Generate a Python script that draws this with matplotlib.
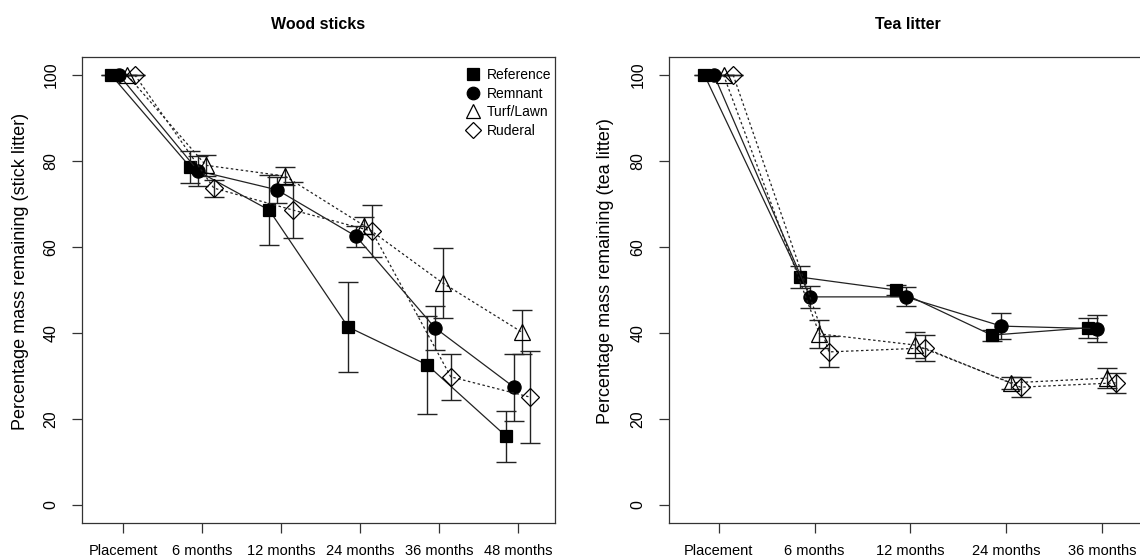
import matplotlib
matplotlib.use("Agg")
import matplotlib.pyplot as plt
import numpy as np

plt.rcParams['font.family'] = ['Liberation Sans', 'DejaVu Sans']

groups = ["Reference", "Remnant", "Turf/Lawn", "Ruderal"]

# Wood sticks
wood_labels = ["Placement", "6 months", "12 months", "24 months", "36 months", "48 months"]
wood_mean = {
    "Reference": [100, 78.6, 68.6, 41.4, 32.6, 16.0],
    "Remnant":   [100, 77.7, 73.3, 62.5, 41.2, 27.4],
    "Turf/Lawn": [100, 79.0, 76.5, 65.0, 51.6, 40.2],
    "Ruderal":   [100, 73.7, 68.6, 63.7, 29.8, 25.1],
}
wood_err = {
    "Reference": [0, 3.7, 8.2, 10.5, 11.4, 5.9],
    "Remnant":   [0, 3.4, 3.0, 2.4, 5.1, 7.8],
    "Turf/Lawn": [0, 2.4, 2.0, 2.0, 8.2, 5.2],
    "Ruderal":   [0, 2.0, 6.5, 6.1, 5.4, 10.8],
}

# Tea litter
tea_labels = ["Placement", "6 months", "12 months", "24 months", "36 months"]
tea_mean = {
    "Reference": [100, 53.0, 50.0, 39.5, 41.2],
    "Remnant":   [100, 48.4, 48.4, 41.6, 41.0],
    "Turf/Lawn": [100, 39.8, 37.2, 28.4, 29.5],
    "Ruderal":   [100, 35.6, 36.5, 27.4, 28.4],
}
tea_err = {
    "Reference": [0, 2.6, 1.2, 1.3, 2.3],
    "Remnant":   [0, 2.6, 2.2, 3.1, 3.2],
    "Turf/Lawn": [0, 3.2, 3.0, 1.4, 2.4],
    "Ruderal":   [0, 3.6, 3.1, 2.4, 2.3],
}

offsets = {"Reference": -0.15, "Remnant": -0.05, "Turf/Lawn": 0.05, "Ruderal": 0.15}
styles = {
    "Reference": dict(marker='s', ms=9, mfc='black', ls='-'),
    "Remnant":   dict(marker='o', ms=9.5, mfc='black', ls='-'),
    "Turf/Lawn": dict(marker='^', ms=11, mfc='none', ls=(0, (2, 2))),
    "Ruderal":   dict(marker='D', ms=9, mfc='none', ls=(0, (2, 2))),
}

fig = plt.figure(figsize=(11.4, 5.59), dpi=100)
ax1 = fig.add_axes([82/1140, 36/559, 473/1140, 466/559])
ax2 = fig.add_axes([669/1140, 36/559, 478/1140, 466/559])


def draw(ax, labels, means, errs, ylabel, title, label_x):
    x = np.arange(1, len(labels) + 1)
    handles = []
    for g in groups:
        st = styles[g]
        xx = x + offsets[g]
        ax.errorbar(xx, means[g], yerr=errs[g], fmt='none', ecolor='#222222',
                    elinewidth=1.0, capsize=7, capthick=1.0, zorder=2)
        h, = ax.plot(xx, means[g], color='#222222', lw=0.9, linestyle=st['ls'],
                     marker=st['marker'], markersize=st['ms'],
                     markerfacecolor=st['mfc'], markeredgecolor='black',
                     markeredgewidth=0.9, zorder=3, label=g)
        handles.append(h)
    ax.set_xlim(0.48, len(labels) + 0.47)
    ax.set_ylim(-4.2, 104.2)
    ax.set_xticks(x)
    ax.set_xticklabels(labels, fontsize=10.5)
    ax.set_yticks([0, 20, 40, 60, 80, 100])
    ax.set_yticklabels(['0', '20', '40', '60', '80', '100'], rotation=90, va='center', fontsize=11.5)
    ax.tick_params(axis='both', length=7, width=0.9, color='#333333')
    ax.tick_params(axis='x', pad=8)
    ax.tick_params(axis='y', pad=10)
    for s in ax.spines.values():
        s.set_linewidth(0.9)
        s.set_color('#333333')
    ax.set_ylabel(ylabel, fontsize=13)
    ax.yaxis.set_label_coords(label_x, 0.54)
    ax.set_title(title, fontsize=11.5, fontweight='bold', pad=20)
    return handles


h = draw(ax1, wood_labels, wood_mean, wood_err,
         "Percentage mass remaining (stick litter)", "Wood sticks", -0.112)
draw(ax2, tea_labels, tea_mean, tea_err,
     "Percentage mass remaining (tea litter)", "Tea litter", -0.115)

leg_handles = []
for g in groups:
    st = styles[g]
    lh, = ax1.plot([], [], linestyle='none', marker=st['marker'],
                   markersize=st['ms'] * 0.95, markerfacecolor=st['mfc'],
                   markeredgecolor='black', markeredgewidth=0.9)
    leg_handles.append(lh)
ax1.legend(leg_handles, groups, loc='upper right', frameon=False, fontsize=10,
           handlelength=0.8, handletextpad=0.6, labelspacing=0.33,
           borderaxespad=0.3, bbox_to_anchor=(1.012, 0.997))

fig.savefig("out.png", dpi=100)
